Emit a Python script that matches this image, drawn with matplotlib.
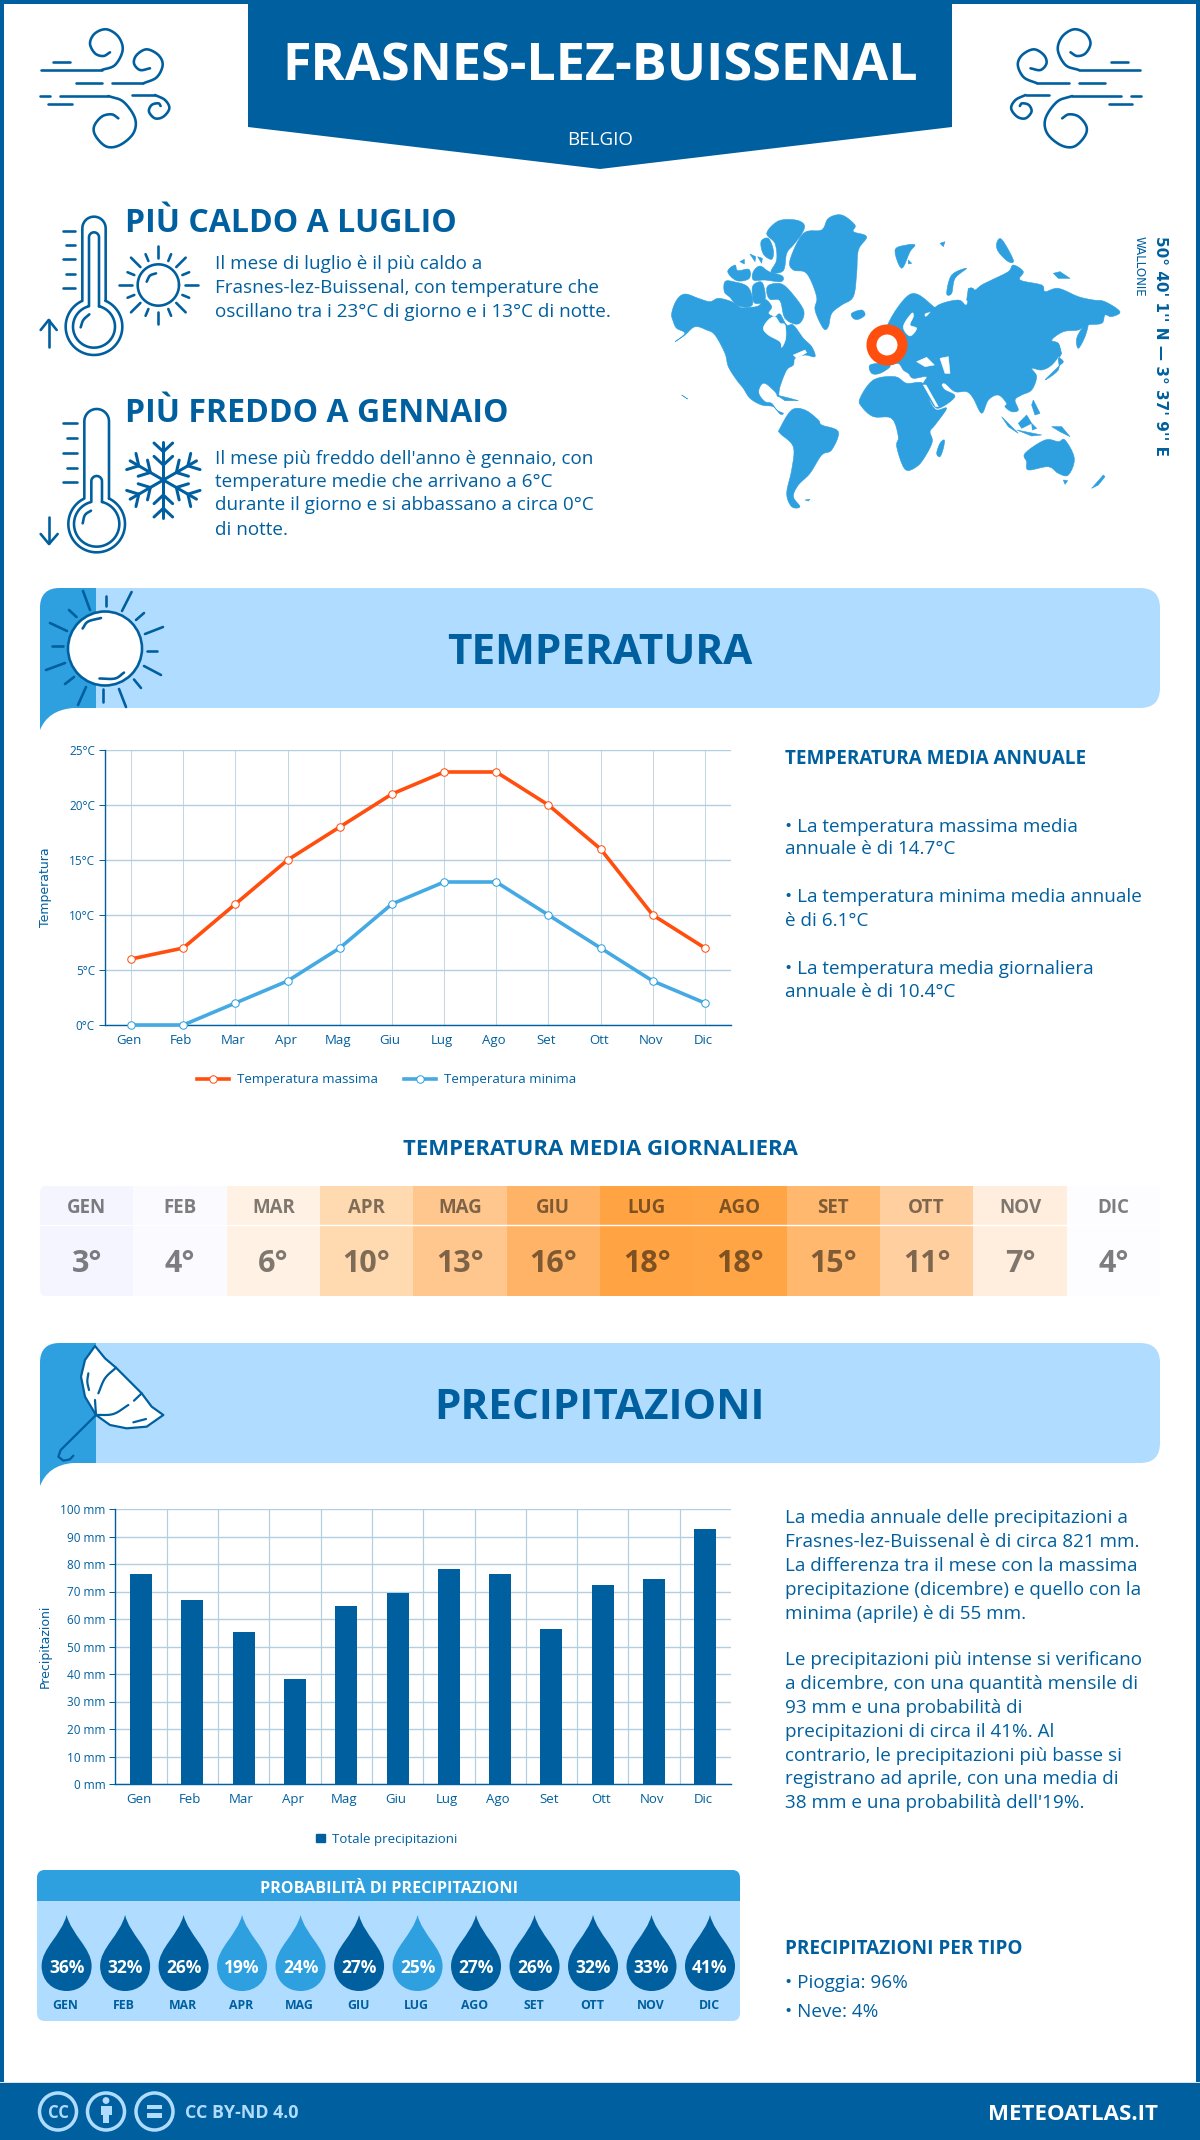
import numpy as np
import matplotlib
matplotlib.use("Agg")
import matplotlib.pyplot as plt
from matplotlib.patches import Rectangle, FancyBboxPatch, PathPatch, Polygon, Circle, Patch
from matplotlib.path import Path
from matplotlib.transforms import ScaledTranslation

# ---------- data ----------
months = ["Gen", "Feb", "Mar", "Apr", "Mag", "Giu", "Lug", "Ago", "Set", "Ott", "Nov", "Dic"]
months_upper = ["GEN", "FEB", "MAR", "APR", "MAG", "GIU", "LUG", "AGO", "SET", "OTT", "NOV", "DIC"]
temp_max = [6, 7, 11, 15, 18, 21, 23, 23, 20, 16, 10, 7]
temp_min = [0, 0, 2, 4, 7, 11, 13, 13, 10, 7, 4, 2]
temp_daily = [3, 4, 6, 10, 13, 16, 18, 18, 15, 11, 7, 4]
precip_mm = [76.4, 67, 55.3, 38.2, 64.8, 69.5, 78.2, 76.4, 56.4, 72.4, 74.6, 92.8]
precip_prob = [36, 32, 26, 19, 24, 27, 25, 27, 26, 32, 33, 41]

# ---------- styles ----------
BLUE = "#005F9E"
MID = "#2E9FDF"
LIGHT = "#B0DCFF"
ORANGE = "#FF4E0D"
GRID = "#B3CEE0"
FONT = "Open Sans"
BODY = 13.57
cell_colors = ["#F5F5FF", "#FBFAFF", "#FFF1E3", "#FFD9B0", "#FFC78E", "#FFB366",
               "#FFA343", "#FFA545", "#FFB86E", "#FFCF9F", "#FFEEDD", "#FDFCFE"]

W, H = 1200, 2140
fig = plt.figure(figsize=(W / 100, H / 100), dpi=100, facecolor="white")
ov = fig.add_axes([0, 0, 1, 1], zorder=0)
ov.set_xlim(0, W)
ov.set_ylim(H, 0)
ov.axis("off")


def px(v):
    return v * 72 / 100


def T(x, yc, s, size, weight="normal", color=BLUE, ha="left", family=FONT, **kw):
    base = yc + 0.36 * size * 100 / 72
    return ov.text(x, base, s, fontsize=size, fontweight=weight, color=color, ha=ha,
                   va="baseline", family=family, **kw)


def smooth(pts, n=14):
    p = np.array(pts, float)
    p = np.vstack([2 * p[0] - p[1], p, 2 * p[-1] - p[-2]])
    out = []
    for i in range(1, len(p) - 2):
        t = np.linspace(0, 1, n, endpoint=False)[:, None]
        a, b, c, d = p[i - 1], p[i], p[i + 1], p[i + 2]
        out.append(0.5 * (2 * b + (c - a) * t + (2 * a - 5 * b + 4 * c - d) * t ** 2 + (3 * b - a - 3 * c + d) * t ** 3))
    out.append(p[-2][None, :])
    return np.vstack(out)


def smooth_closed(pts, n=5):
    p = np.array(pts, float)
    m = len(p)
    out = []
    t = np.linspace(0, 1, n, endpoint=False)[:, None]
    for i in range(m):
        a, b, c, d = p[(i - 1) % m], p[i], p[(i + 1) % m], p[(i + 2) % m]
        out.append(0.5 * (2 * b + (c - a) * t + (2 * a - 5 * b + 4 * c - d) * t ** 2 + (3 * b - a - 3 * c + d) * t ** 3))
    return np.vstack(out)


def stroke(pts, ox, oy, s=1 / 3, lw=2.6, color=BLUE, curve=False, flip=False, z=3):
    a = smooth(pts) if curve else np.array(pts, float)
    xs = ox + a[:, 0] * s
    ys = oy + a[:, 1] * s
    if flip:
        xs = 1180.5 - xs
    ov.plot(xs, ys, color=color, lw=px(lw), solid_capstyle="round", solid_joinstyle="round", zorder=z)


def wind(flip):
    o = (30, 20)
    stroke([(32, 150), (215, 150)], *o, flip=flip)
    stroke([(215, 150), (255, 135), (278, 90), (265, 50), (230, 28), (195, 40), (180, 70), (195, 100), (220, 108), (240, 97)], *o, curve=True, flip=flip)
    stroke([(68, 125), (120, 125)], *o, flip=flip)
    stroke([(138, 190), (215, 190)], *o, flip=flip)
    stroke([(245, 190), (340, 190)], *o, flip=flip)
    stroke([(340, 190), (380, 172), (398, 135), (385, 105), (350, 88), (320, 105), (312, 130), (330, 150), (360, 145)], *o, curve=True, flip=flip)
    stroke([(30, 228), (60, 228)], *o, flip=flip)
    stroke([(90, 228), (235, 228)], *o, flip=flip)
    stroke([(235, 228), (280, 245), (315, 295), (310, 340), (270, 375), (230, 380), (198, 350), (192, 320), (215, 290), (245, 283), (265, 295)], *o, curve=True, flip=flip)
    stroke([(55, 253), (125, 253)], *o, flip=flip)
    stroke([(305, 225), (375, 225)], *o, flip=flip)
    stroke([(375, 225), (405, 240), (418, 265), (400, 290), (375, 295), (357, 275), (365, 255), (385, 250), (392, 258)], *o, curve=True, flip=flip)


def therm_path(cx, top, r, cy, R):
    """tube joined to a bulb, zoom coordinates"""
    th0 = np.arcsin(r / R)
    a = np.linspace(np.pi * 1.5 + th0, np.pi * 1.5 + 2 * np.pi - th0, 80)
    bx = cx + R * np.cos(a)
    by = cy + R * np.sin(a)
    t = np.linspace(0, np.pi, 30)
    tx = cx - r * np.cos(t)
    ty = top + r - r * np.sin(t)
    return np.concatenate([bx, tx, bx[:1]]), np.concatenate([by, ty, by[:1]])


def thermometer(o, cx, top, r, cy, R, itop, ir, iR, hi, ticks, tx, arrow):
    for (a, b, c, d) in [(cx, top, r, R), (cx, itop, ir, iR)]:
        xs, ys = therm_path(a, b, c, cy, d)
        stroke(list(zip(xs, ys)), *o)
    stroke(hi, *o, curve=True)
    for i, y in enumerate(ticks):
        stroke([(tx[1 if i % 2 else 0], y), (tx[2], y)], *o)
    stroke(arrow[0], *o)
    stroke(arrow[1], *o)


wind(False)
wind(True)

thermometer((30, 205), 192, 35, 35, 365, 85, 82, 15, 63,
            [(152, 367), (160, 345), (178, 328)], [77, 120, 163, 206, 248], (98, 108, 135),
            ([(56, 345), (56, 425)], [(32, 375), (56, 345), (80, 375)]))
# sun, small
o = (30, 205)
a = np.linspace(0, 2 * np.pi, 80)
stroke(list(zip(385 + 62 * np.cos(a), 240 + 62 * np.sin(a))), *o)
stroke([(350, 230), (360, 212), (378, 205)], *o, curve=True)
for k in range(16):
    ang = k * np.pi / 8
    if k % 4 == 0:
        r0, r1 = 80, 118
    elif k % 2 == 0:
        r0, r1 = 76, 116
    else:
        r0, r1 = 78, 100
    stroke([(385 + r0 * np.cos(ang), 240 + r0 * np.sin(ang)), (385 + r1 * np.cos(ang), 240 + r1 * np.sin(ang))], *o)

thermometer((30, 400), 200, 27, 37, 372, 85, 228, 16, 68,
            [(158, 370), (165, 345), (183, 332)], [70, 114, 158, 203, 247], (100, 110, 140),
            ([(57, 350), (57, 430)], [(32, 402), (57, 432), (83, 402)]))
# snowflake
o = (30, 400)
for k in range(6):
    ang = -np.pi / 2 + k * np.pi / 3
    ux, uy = np.cos(ang), np.sin(ang)
    vx, vy = -uy, ux
    stroke([(400, 240), (400 + 115 * ux, 240 + 115 * uy)], *o, lw=3)
    for r0 in (45, 85):
        for sgn in (-1, 1):
            stroke([(400 + r0 * ux, 240 + r0 * uy),
                    (400 + (r0 + 26) * ux + sgn * 28 * vx, 240 + (r0 + 26) * uy + sgn * 28 * vy)], *o, lw=3)

# frame and header
ov.add_patch(Rectangle((0, 0), 4, H, color=BLUE, lw=0, zorder=1))
ov.add_patch(Rectangle((1196, 0), 4, H, color=BLUE, lw=0, zorder=1))
ov.add_patch(Rectangle((0, 0), W, 3.5, color=BLUE, lw=0, zorder=1))
ov.add_patch(Polygon([(248, 0), (952, 0), (952, 127), (600, 169), (248, 127)], closed=True, color=BLUE, lw=0, zorder=1))
T(600, 62, "FRASNES-LEZ-BUISSENAL", 37.5, "bold", "white", "center", zorder=4)
T(600, 138, "BELGIO", 13.5, "normal", "white", "center", zorder=4)

T(125, 220, "PIÙ CALDO A LUGLIO", 23, "bold")
for y, s in zip([262.5, 286, 310],
                ["Il mese di luglio è il più caldo a",
                 "Frasnes-lez-Buissenal, con temperature che",
                 "oscillano tra i 23°C di giorno e i 13°C di notte."]):
    T(215, y, s, BODY)
T(125, 411, "PIÙ FREDDO A GENNAIO", 23, "bold")
for y, s in zip([457, 480, 503.6, 528],
                ["Il mese più freddo dell'anno è gennaio, con",
                 "temperature medie che arrivano a 6°C",
                 "durante il giorno e si abbassano a circa 0°C",
                 "di notte."]):
    T(215, y, s, BODY)

# ---------- world map (decoration) ----------
A = (665, 210)
B = (845, 210)
land_A = [
    [(20, 310), (35, 270), (60, 252), (100, 265), (135, 275), (160, 265), (200, 275), (225, 292), (250, 292), (280, 288), (300, 268), (320, 290), (310, 310), (330, 320), (345, 312), (365, 345), (385, 345), (415, 385), (440, 410), (450, 440), (420, 435), (390, 445), (385, 465), (365, 480), (345, 530), (340, 560), (330, 545), (300, 520), (285, 530), (282, 552), (300, 575), (320, 580), (335, 600), (355, 610), (345, 612), (325, 590), (290, 585), (255, 565), (235, 535), (215, 510), (190, 470), (180, 430), (150, 375), (125, 360), (90, 350), (60, 375), (30, 395), (60, 370), (35, 355), (25, 335)],
    [(305, 70), (340, 33), (392, 30), (418, 45), (410, 72), (385, 105), (365, 130), (355, 182), (318, 186), (335, 150), (330, 100)],
    [(288, 95), (310, 85), (325, 120), (320, 148), (295, 132)],
    [(188, 185), (210, 165), (218, 182), (252, 178), (252, 206), (215, 212)],
    [(180, 215), (205, 215), (250, 232), (262, 285), (220, 288), (195, 262), (178, 245)],
    [(265, 185), (285, 168), (312, 185), (352, 198), (348, 215), (300, 210), (265, 210)],
    [(265, 225), (292, 218), (300, 270), (270, 280), (262, 255)],
    [(312, 225), (350, 222), (385, 255), (417, 305), (400, 342), (360, 325), (345, 272), (315, 268), (305, 245)],
    [(225, 155), (238, 148), (238, 162)],
    [(255, 132), (272, 140), (270, 155)],
    [(278, 140), (292, 145), (290, 160)],
    [(375, 150), (415, 70), (470, 60), (490, 25), (530, 15), (570, 45), (565, 65), (605, 80), (580, 120), (575, 190), (565, 260), (530, 285), (500, 310), (490, 350), (475, 355), (450, 300), (455, 260), (425, 190), (385, 180)],
    [(560, 310), (590, 300), (600, 315), (580, 328), (565, 325)],
    [(345, 655), (380, 600), (420, 600), (460, 630), (470, 645), (520, 665), (500, 720), (470, 735), (435, 790), (400, 825), (385, 860), (405, 890), (380, 890), (365, 850), (380, 780), (385, 710), (345, 670)],
    [(335, 555), (375, 565), (400, 572), (360, 572)],
    [(420, 870), (435, 868), (430, 873)],
    [(50, 555), (68, 567), (60, 562)],
]
white_A = [
    [(295, 355), (310, 330), (330, 320), (345, 340), (360, 345), (362, 385), (350, 412), (345, 395), (310, 375)],
    [(385, 435), (420, 420), (425, 428), (395, 445)],
]
land_B = [
    [(130, 340), (180, 265), (215, 252), (260, 285), (270, 300), (240, 310), (245, 320), (280, 285), (340, 270), (365, 285), (375, 235), (390, 240), (410, 225), (440, 210), (490, 185), (505, 165), (535, 185), (525, 210), (590, 225), (600, 245), (640, 235), (700, 260), (745, 270), (780, 275), (825, 305), (800, 320), (780, 315), (770, 340), (725, 345), (700, 360), (655, 365), (620, 390), (640, 400), (645, 430), (620, 465), (590, 480), (560, 475), (575, 500), (560, 540), (530, 555), (510, 570), (520, 600), (500, 605), (480, 590), (485, 580), (460, 555), (430, 570), (410, 610), (385, 565), (365, 545), (330, 545), (300, 520), (290, 525), (300, 540), (330, 560), (280, 595), (255, 570), (235, 525), (245, 500), (205, 505), (190, 490), (175, 480), (160, 460), (130, 465), (100, 440)],
    [(75, 465), (120, 460), (135, 470), (105, 490), (80, 490)],
    [(730, 340), (720, 380), (700, 415), (695, 385), (715, 350)],
    [(45, 565), (85, 510), (150, 500), (185, 520), (235, 520), (255, 575), (275, 600), (305, 595), (270, 645), (255, 665), (262, 695), (240, 740), (215, 770), (180, 778), (155, 710), (160, 680), (140, 625), (85, 620), (50, 590)],
    [(285, 700), (298, 690), (295, 715), (285, 740), (275, 730)],
    [(540, 730), (600, 690), (640, 695), (660, 690), (688, 745), (670, 795), (640, 790), (610, 770), (550, 780), (545, 755)],
    [(740, 835), (775, 795), (780, 800), (760, 825)],
    [(655, 810), (668, 812), (660, 823)],
    [(620, 650), (650, 650), (675, 680), (645, 665)],
    [(520, 640), (545, 615), (560, 640), (530, 655)],
    [(470, 620), (500, 650), (520, 670), (490, 650)],
    [(515, 660), (590, 675), (560, 678)],
    [(565, 570), (585, 610), (570, 615), (560, 585)],
    [(560, 640), (575, 655), (562, 660)],
    [(600, 510), (640, 470), (655, 455), (640, 445), (640, 480)],
    [(640, 400), (650, 430), (642, 445)],
    [(150, 120), (185, 105), (210, 105), (195, 125), (170, 175)],
    [(190, 150), (200, 160), (190, 162)],
    [(305, 250), (320, 195), (365, 175), (330, 205), (320, 250)],
    [(365, 270), (370, 235), (385, 235), (382, 285)],
    [(455, 100), (470, 88), (505, 150), (490, 155), (460, 125)],
    [(625, 190), (645, 185), (675, 205), (640, 205)],
    [(285, 100), (300, 95), (295, 110)],
]
white_B = [
    [(175, 350), (200, 310), (205, 320), (195, 345), (215, 355), (195, 378)],
    [(215, 455), (245, 442), (268, 465), (240, 470)],
    [(285, 445), (310, 440), (315, 490), (300, 490)],
    [(235, 525), (243, 525), (280, 590), (272, 590)],
    [(140, 480), (170, 490), (150, 495)],
]


def poly(pts, o, color, z):
    a = smooth_closed(pts) if len(pts) >= 5 else np.array(pts, float)
    a = a / 3 + np.array(o)
    ov.add_patch(Polygon(a, closed=True, color=color, lw=0.4, zorder=z))


for p in land_A:
    poly(p, A, MID, 2)
for p in land_B:
    poly(p, B, MID, 2)
for p in white_A:
    poly(p, A, "white", 2.1)
for p in white_B:
    poly(p, B, "white", 2.1)
ov.add_patch(Circle((887, 345), 15.5, fc="white", ec=ORANGE, lw=px(10), zorder=3))
t1 = T(1160, 236, "50° 40' 1'' N — 3° 37' 9'' E", 11, "bold", BLUE, "center", family="DejaVu Sans", rotation=-90)
t1.set_va("top")
t1.set_y(236)
t2 = T(1139.5, 236, "WALLONIE", 8.6, "normal", BLUE, "center", family="DejaVu Sans", rotation=-90)
t2.set_va("top")
t2.set_y(236)


# ---------- bands ----------
def band(y0, y1, tip, title):
    b = FancyBboxPatch((40, y0), 1120, y1 - y0, boxstyle="round,pad=0,rounding_size=20", fc=LIGHT, ec="none", zorder=1)
    ov.add_patch(b)
    dark = Rectangle((40, y0), 56, y1 - y0, fc=MID, ec="none", zorder=1.1)
    ov.add_patch(dark)
    clip = FancyBboxPatch((40, y0), 120, y1 - y0 + 30, boxstyle="round,pad=0,rounding_size=20", fc="none", ec="none", transform=ov.transData)
    ov.add_patch(clip)
    dark.set_clip_path(clip)
    ov.add_patch(Rectangle((40, y1 - 22), 34, 22, fc=MID, ec="none", zorder=1.05))
    ov.add_patch(PathPatch(Path([(40, y1), (73, y1), (48, y1 + 2), (40, tip), (40, y1)],
                                [Path.MOVETO, Path.LINETO, Path.CURVE3, Path.CURVE3, Path.CLOSEPOLY]),
                           fc=MID, ec="none", zorder=1.1))
    T(600, (y0 + y1) / 2 + 1, title, 30.45, "bold", BLUE, "center", zorder=4)


band(588, 708, 730, "TEMPERATURA")
band(1343, 1463, 1486, "PRECIPITAZIONI")

# big sun
ov.add_patch(Circle((105, 648.5), 37, fc="white", ec=BLUE, lw=px(2.6), zorder=3))
for a_, b_ in [((83, 591), (90, 610)), ((131.6, 592), (122, 611)), ((50, 623), (67, 631)), ((145, 634), (163, 627)),
               ((46, 670), (65, 663)), ((144, 666), (161, 675)), ((86, 687), (78, 705)), ((119, 689), (126, 707)),
               ((106, 596), (106, 606)), ((69, 610), (76.5, 617)), ((144, 613), (136, 620)), ((52, 646), (63, 646)),
               ((147, 650.5), (157, 650.5)), ((74, 677), (65, 684)), ((134, 679.5), (141, 688)), ((102.5, 689), (102.5, 701.5))]:
    stroke([a_, b_], 0, 0, s=1)
stroke([(82.6, 628.5), (88, 621.6), (101, 618)], 0, 0, s=1, curve=True)
stroke([(99.5, 678.5), (115, 678.5), (124, 672.6)], 0, 0, s=1, curve=True)

# umbrella
o = (30, 1340)
um = np.array([(195, 18), (165, 60), (153, 110), (165, 170), (198, 225), (240, 255), (290, 265), (350, 260), (400, 225),
               (365, 200), (335, 160), (300, 125), (258, 83), (225, 55)], float) / 3 + np.array(o)
ov.add_patch(Polygon(um, closed=True, fc="white", ec=BLUE, lw=px(2.2), joinstyle="round", zorder=3))
for pts in [[(198, 225), (195, 180)], [(205, 160), (225, 115), (258, 83)], [(198, 225), (250, 222), (295, 195)],
            [(312, 182), (335, 160)], [(175, 100), (172, 125), (177, 150)], [(310, 247), (348, 237)]]:
    stroke(pts, *o, lw=2.2, curve=len(pts) > 2, z=4)
stroke([(198, 225), (92, 330), (85, 350), (100, 362), (120, 358), (130, 347)], *o, lw=2.2, z=4)


# ---------- charts ----------
def axes_px(x0, y0, x1, y1):
    return fig.add_axes([x0 / W, 1 - y1 / H, (x1 - x0) / W, (y1 - y0) / H], zorder=2, facecolor="none")


def style(ax, xsize=9.5, ysize=8.5):
    for s in ("top", "right"):
        ax.spines[s].set_visible(False)
    for s in ("left", "bottom"):
        ax.spines[s].set_color(BLUE)
        ax.spines[s].set_linewidth(px(1.4))
    shift = ScaledTranslation(-2 / 100, 0, fig.dpi_scale_trans)
    for lab in ax.get_xticklabels():
        lab.set(fontsize=xsize, color=BLUE, family=FONT)
        lab.set_transform(lab.get_transform() + shift)
    for lab in ax.get_yticklabels():
        lab.set(fontsize=ysize, color=BLUE, family=FONT)


xpos = np.arange(len(months))

ax = axes_px(105, 750, 731, 1025)
line_max, = ax.plot(xpos, temp_max, color=ORANGE, lw=px(3.6), marker="o", ms=px(7.5), mfc="white", mec=ORANGE, mew=px(1), clip_on=False, zorder=4, label="Temperatura massima")
line_min, = ax.plot(xpos, temp_min, color="#45A9E3", lw=px(3.6), marker="o", ms=px(7.5), mfc="white", mec="#2E9FDF", mew=px(1), clip_on=False, zorder=4, label="Temperatura minima")
ax.set_xlim(-0.5, 11.5)
ax.set_ylim(0, 25)
ax.set_yticks([0, 5, 10, 15, 20, 25])
ax.set_yticklabels([f"{v}°C" for v in [0, 5, 10, 15, 20, 25]])
ax.set_xticks(xpos)
ax.set_xticklabels(months)
ax.grid(axis="y", color=GRID, lw=px(1.4))
ax.grid(axis="x", color=GRID, lw=px(0.8))
ax.set_axisbelow(True)
ax.tick_params(axis="y", length=px(6), width=px(1), color=BLUE, pad=px(4))
ax.tick_params(axis="x", length=0, pad=px(9))
style(ax)
ax.set_ylabel("Temperatura", fontsize=9, color=BLUE, family="DejaVu Sans", labelpad=0)
ax.yaxis.set_label_coords((52 - 105) / 626, 0.5)
leg = ax.legend(handles=[line_max, line_min], ncol=2, loc="center", bbox_to_anchor=(386.5 / W, 1 - 1080 / H),
                bbox_transform=fig.transFigure, frameon=False, handlelength=2.4, columnspacing=2.0, handletextpad=0.6,
                prop={"family": FONT, "size": 9.5}, labelcolor=BLUE, borderpad=0, borderaxespad=0)

ax2 = axes_px(115.4, 1509, 731, 1784)
bars = ax2.bar(xpos, precip_mm, width=0.43, color=BLUE, zorder=3, label="Totale precipitazioni")
ax2.set_xlim(-0.5, 11.5)
ax2.set_ylim(0, 100)
ax2.set_yticks(np.arange(0, 101, 10))
ax2.set_yticklabels([f"{v} mm" for v in range(0, 101, 10)])
ax2.set_xticks(xpos)
ax2.set_xticklabels(months)
ax2.set_xticks(xpos[:-1] + 0.5, minor=True)
ax2.grid(axis="y", color=GRID, lw=px(1.4))
ax2.grid(axis="x", which="minor", color=GRID, lw=px(1.2))
ax2.set_axisbelow(True)
ax2.tick_params(axis="y", length=px(6), width=px(1), color=BLUE, pad=px(4))
ax2.tick_params(axis="x", which="both", length=0, pad=px(9))
style(ax2)
ax2.set_ylabel("Precipitazioni", fontsize=9, color=BLUE, family="DejaVu Sans", labelpad=0)
ax2.yaxis.set_label_coords((52 - 115.4) / 615.6, 0.5)
ax2.legend(handles=[Patch(color=BLUE, label="Totale precipitazioni")], loc="center", bbox_to_anchor=(387 / W, 1 - 1839 / H),
           bbox_transform=fig.transFigure, frameon=False, handlelength=0.62, handleheight=0.62, handletextpad=0.6,
           prop={"family": FONT, "size": 9.5}, labelcolor=BLUE, borderpad=0, borderaxespad=0)

# right texts, temperature
T(785, 757, "TEMPERATURA MEDIA ANNUALE", 13.6, "bold")
for y, s in zip([825, 847, 895.5, 919, 967, 990],
                ["• La temperatura massima media", "annuale è di 14.7°C",
                 "• La temperatura minima media annuale", "è di 6.1°C",
                 "• La temperatura media giornaliera", "annuale è di 10.4°C"]):
    T(785, y, s, BODY)

# heat table
T(600, 1147, "TEMPERATURA MEDIA GIORNALIERA", 15.9, "bold", BLUE, "center")
cw = (1160 - 40) / 12
clip = FancyBboxPatch((40, 1186), 1120, 110, boxstyle="round,pad=0,rounding_size=6", fc="none", ec="none", transform=ov.transData)
ov.add_patch(clip)
for i, v in enumerate(temp_daily):
    x0 = 40 + i * cw
    r = Rectangle((x0, 1186), cw + 0.5, 110, fc=cell_colors[i], ec="none", zorder=1)
    ov.add_patch(r)
    r.set_clip_path(clip)
    T(x0 + cw / 2, 1206, months_upper[i], 13.5, "bold", "black", "center", alpha=0.5, zorder=3)
    T(x0 + cw / 2, 1261, f"{v}°", 22, "bold", "black", "center", alpha=0.5, zorder=3)
ov.plot([40, 1160], [1225, 1225], color="white", lw=px(1.4), zorder=2)

# right text, precipitation
for y, s in zip([1516.7, 1540, 1564, 1588, 1612, 1658, 1682.7, 1706.7, 1730, 1754, 1777.7, 1801.7],
                ["La media annuale delle precipitazioni a",
                 "Frasnes-lez-Buissenal è di circa 821 mm.",
                 "La differenza tra il mese con la massima",
                 "precipitazione (dicembre) e quello con la",
                 "minima (aprile) è di 55 mm.",
                 "Le precipitazioni più intense si verificano",
                 "a dicembre, con una quantità mensile di",
                 "93 mm e una probabilità di",
                 "precipitazioni di circa il 41%. Al",
                 "contrario, le precipitazioni più basse si",
                 "registrano ad aprile, con una media di",
                 "38 mm e una probabilità dell'19%."]):
    T(785, y, s, BODY)

# probability panel
panel = FancyBboxPatch((37, 1870), 703, 151, boxstyle="round,pad=0,rounding_size=8", fc=LIGHT, ec="none", zorder=1)
ov.add_patch(panel)
head = Rectangle((37, 1870), 703, 31, fc=MID, ec="none", zorder=1.1)
ov.add_patch(head)
head.set_clip_path(panel)
T(388.5, 1887, "PROBABILITÀ DI PRECIPITAZIONI", 11.65, "bold", "white", "center", zorder=3)
dx0, ddx = 66.6, (710 - 66.6) / 11
for i, v in enumerate(precip_prob):
    c = dx0 + i * ddx
    codes = [Path.MOVETO] + [Path.CURVE4] * 12
    verts = [(c, 1915), (c + 5, 1935), (c + 25, 1948), (c + 25, 1966), (c + 25, 1981), (c + 14, 1991), (c, 1991),
             (c - 14, 1991), (c - 25, 1981), (c - 25, 1966), (c - 25, 1948), (c - 5, 1935), (c, 1915)]
    ov.add_patch(PathPatch(Path(verts, codes), fc=MID if v < 26 else BLUE, ec="none", zorder=2))
    T(c, 1967, f"{v}%", 12.5, "bold", "white", "center", zorder=3)
    T(c - 1, 2005, months_upper[i], 8.8, "bold", BLUE, "center", zorder=3)

T(785, 1947, "PRECIPITAZIONI PER TIPO", 13.6, "bold")
T(785, 1981, "• Pioggia: 96%", BODY)
T(785, 2010, "• Neve: 4%", BODY)

# footer
ov.add_patch(Rectangle((0, 2082), W, 1.5, color="#DDE3E8", lw=0, zorder=1))
ov.add_patch(Rectangle((0, 2083), W, 57, color=BLUE, lw=0, zorder=1.2))
for cx in (58, 106, 154.5):
    ov.add_patch(Circle((cx, 2111.5), 18.5, fc="none", ec=LIGHT, lw=px(3.5), zorder=3))
T(58, 2111.5, "CC", 12, "bold", LIGHT, "center", zorder=3)
ov.add_patch(Circle((106, 2100.5), 3.4, fc=LIGHT, ec="none", zorder=3))
ov.add_patch(Rectangle((100.5, 2105.5), 11, 9, fc=LIGHT, ec="none", zorder=3))
ov.add_patch(Rectangle((103, 2114), 6, 9, fc=LIGHT, ec="none", zorder=3))
ov.add_patch(Rectangle((147, 2104.5), 15, 4.5, fc=LIGHT, ec="none", zorder=3))
ov.add_patch(Rectangle((147, 2113), 15, 4.5, fc=LIGHT, ec="none", zorder=3))
T(185, 2111.5, "CC BY-ND 4.0", 12.9, "bold", LIGHT, zorder=3)
T(1158, 2111.5, "METEOATLAS.IT", 16, "bold", "white", "right", zorder=3)

fig.savefig("out.png", dpi=100, facecolor="white")
